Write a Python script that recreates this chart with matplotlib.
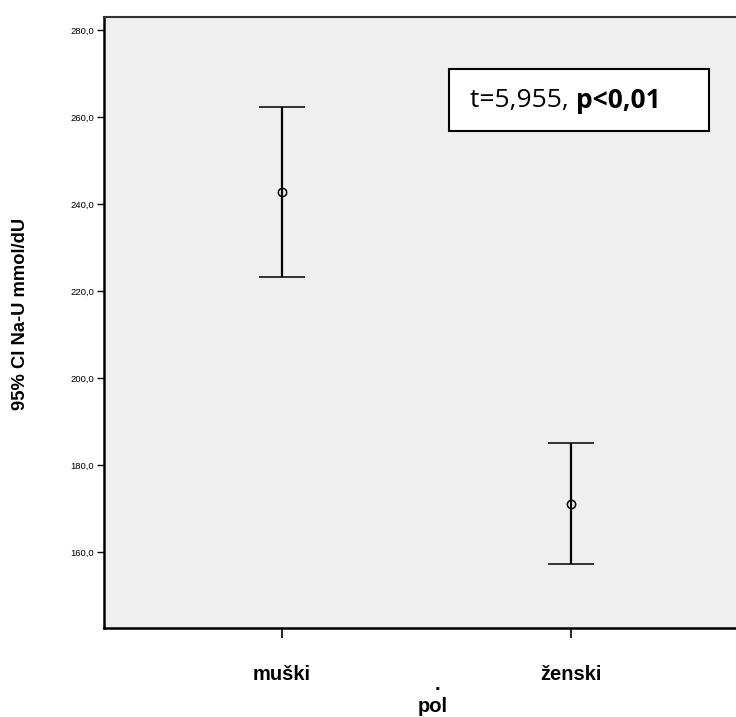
import matplotlib
matplotlib.use("Agg")
import matplotlib.pyplot as plt
from matplotlib.patches import Rectangle

categories = ["muški", "ženski"]
means = [242.8, 171.0]
upper = [262.4, 185.0]
lower = [223.2, 157.2]
yticks = [160, 180, 200, 220, 240, 260, 280]
ytick_labels = ["160,0", "180,0", "200,0", "220,0", "240,0", "260,0", "280,0"]

plt.rcParams['font.family'] = ['Liberation Sans', 'DejaVu Sans']

W, H = 736, 717
fig = plt.figure(figsize=(W/100, H/100), dpi=100)
ax = fig.add_axes([104/W, 89/H, 632/W, 611/H])
ax.set_facecolor('#efefef')

x = list(range(len(categories)))
for xi, m, lo, hi in zip(x, means, lower, upper):
    ax.errorbar([xi], [m], yerr=[[m - lo], [hi - m]], fmt='o', mfc='none', mec='black',
                ms=6, mew=1.1, ecolor='black', elinewidth=1.6, capsize=16.5, capthick=1.6,
                color='black')

ax.set_xlim(-0.616, 1.571)
ax.set_ylim(142.6, 283.0)
ax.set_yticks(yticks)
ax.set_yticklabels(ytick_labels, fontsize=6.8)
ax.set_xticks(x)
ax.set_xticklabels(categories, fontsize=14.5, fontweight='bold')
ax.tick_params(axis='x', length=7, width=1.2, pad=20)
ax.tick_params(axis='y', length=5, width=1, pad=2)

for s in ['left', 'bottom']:
    ax.spines[s].set_linewidth(1.8)
    ax.spines[s].set_color('black')
ax.spines['top'].set_linewidth(1.5)
ax.spines['top'].set_color('#333333')
ax.spines['right'].set_visible(False)

fig.text(437/W, 1 - 684/H, ".", fontsize=14.5, fontweight='bold', ha='center', va='center')
fig.text(433/W, 1 - 706/H, "pol", fontsize=14.5, fontweight='bold', ha='center', va='center')
fig.text(21/W, 1 - 314/H, "95% CI Na-U mmol/dU", fontsize=13.2, fontweight='bold',
         ha='center', va='center', rotation=90)

# annotation box
bx0, by0 = (449-104)/632, (628-131)/611
bw, bh = (709-449)/632, (131-69)/611
ax.add_patch(Rectangle((bx0, by0), bw, bh, transform=ax.transAxes, facecolor='white',
                       edgecolor='black', linewidth=1.5, zorder=5))
ty = (628-101)/611
t1 = ax.text((470-104)/632, ty, "t=5,955, ", transform=ax.transAxes,
             fontsize=19, family=['Open Sans', 'DejaVu Sans'], va='center', ha='left', zorder=6)
fig.canvas.draw()
bb = t1.get_window_extent()
inv = ax.transAxes.inverted()
x_end = inv.transform((bb.x1, bb.y0))[0]
ax.text(x_end, ty, "p<0,01", transform=ax.transAxes, fontsize=19,
        fontweight='bold', family=['Open Sans', 'DejaVu Sans'], va='center', ha='left', zorder=6)

fig.savefig("out.png", dpi=100)
